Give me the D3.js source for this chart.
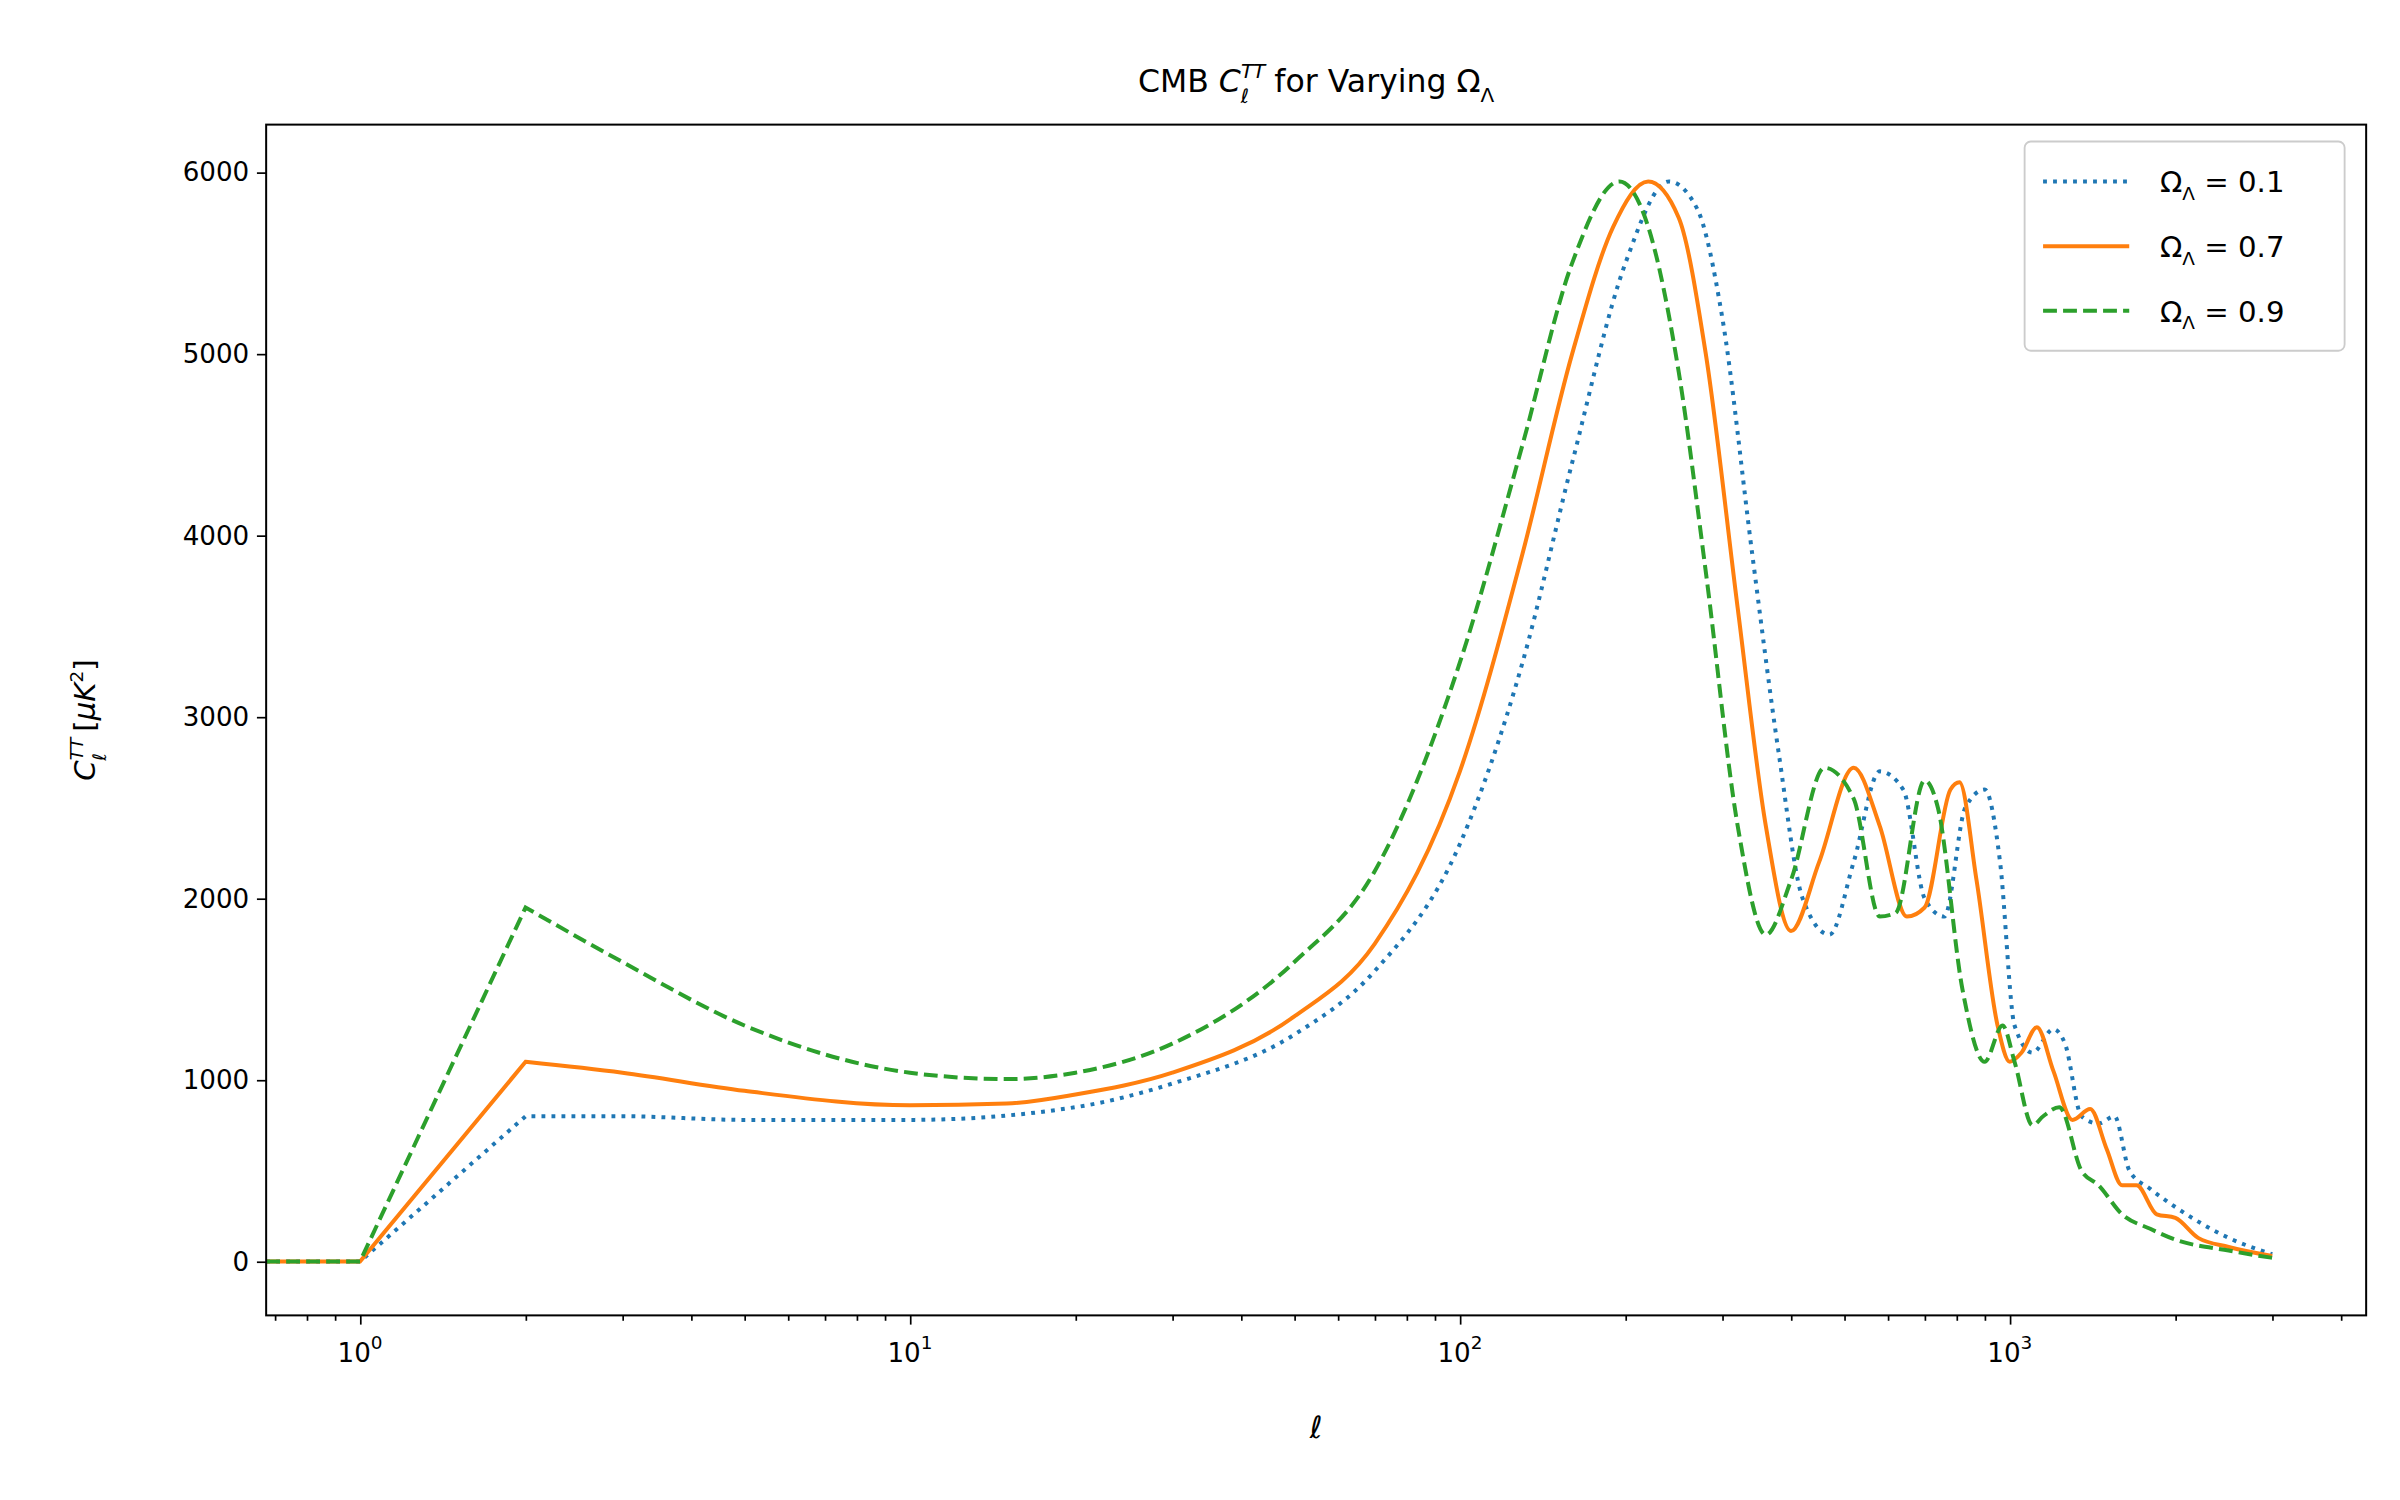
<!doctype html>
<html>
<head>
<meta charset="UTF-8">
<script src="https://cdn.jsdelivr.net/npm/d3@7"></script>
<style>
body { margin:0; background:#fff; }
text { font-family: "DejaVu Sans", sans-serif; fill:#000; }
</style>
</head>
<body>
<div id="chart"></div>
<script>
// values
var ell01 = [0.675,1,2,3,5,10,20,30,50,70,100,130,160,200,240,270,300,340,380,420,470,520,580,640,700,760,830,900,960,1020,1100,1200,1260,1350,1450,1550,1650,1800,2000,2500,3000];
var cl01  = [0,0,800,800,780,780,850,980,1250,1600,2300,3300,4400,5500,5950,5800,5200,3900,2800,2000,1800,2200,2700,2600,2000,1900,2500,2600,2200,1300,1150,1280,1200,800,760,800,500,400,300,130,40];
var ell07 = [0.675,1,2,3,5,10,15,20,30,50,70,100,130,160,190,220,250,280,320,360,400,450,520,580,650,700,780,810,870,950,1000,1050,1120,1200,1300,1400,1500,1600,1700,1850,2000,2200,2500,3000];
var cl07  = [0,0,1100,1040,940,860,870,920,1040,1350,1750,2700,3900,5000,5700,5950,5750,5000,3600,2400,1820,2200,2720,2400,1900,1950,2600,2640,2100,1300,1100,1150,1290,1050,780,840,620,420,420,260,240,130,80,30];
var ell09 = [0.675,1,2,3,5,10,15,20,30,50,70,100,130,160,195,220,250,280,320,360,400,460,520,580,620,700,740,820,900,970,1020,1100,1150,1230,1350,1450,1600,1800,2000,2500,3000];
var cl09  = [0,0,1950,1650,1300,1040,1005,1040,1200,1650,2150,3300,4500,5500,5950,5700,4900,3800,2400,1800,2100,2720,2550,1900,1920,2650,2500,1500,1100,1300,1100,750,800,850,500,420,260,180,120,60,20];
var seriesNames = ["0.1","0.7","0.9"];
var colors = ["#1f77b4","#ff7f0e","#2ca02c"];
var dashes = ["2.5,4","none","9,4"];
var yTicks = [0,1000,2000,3000,4000,5000,6000];

var W = 1560, H = 975;
var margin = {top:81, right:22, bottom:120, left:173};
var svg = d3.select("#chart").append("svg")
    .attr("width", 2400).attr("height", 1500)
    .attr("viewBox", "0 0 " + W + " " + H);

var x = d3.scaleLog().domain([0.675, 4446]).range([margin.left, W - margin.right]);
var y = d3.scaleLinear().domain([-297, 6263]).range([H - margin.bottom, margin.top]);

var g = svg.append("g");
svg.append("clipPath").attr("id","c").append("rect")
    .attr("x", margin.left).attr("y", margin.top)
    .attr("width", W - margin.right - margin.left).attr("height", H - margin.bottom - margin.top);

var data = [[ell01, cl01], [ell07, cl07], [ell09, cl09]];
var lineLin = d3.line().x(function(d){ return x(d[0]); }).y(function(d){ return y(d[1]); });
var lineSm = d3.line().x(function(d){ return x(d[0]); }).y(function(d){ return y(d[1]); }).curve(d3.curveMonotoneX);
data.forEach(function(s, i) {
    var pts = s[0].map(function(l, j){ return [l, s[1][j]]; });
    var head = pts.filter(function(p){ return p[0] <= 2; });
    var tail = pts.filter(function(p){ return p[0] >= 2; });
    var d = lineLin(head) + lineSm(tail).replace(/^M/, "L");
    g.append("path")
        .attr("d", d).attr("fill","none")
        .attr("stroke", colors[i]).attr("stroke-width", 2.6)
        .attr("stroke-dasharray", dashes[i])
        .attr("clip-path","url(#c)");
});

// axes
svg.append("g").attr("transform","translate(0," + (H - margin.bottom) + ")")
    .call(d3.axisBottom(x).tickValues([1,10,100,1000]).tickFormat("").tickSize(6));
var minor = [];
[0.1,1,10,100,1000].forEach(function(d){ for (var k=2;k<10;k++){ var v=d*k; if (v>0.675 && v<4446) minor.push(v);} });
svg.append("g").attr("transform","translate(0," + (H - margin.bottom) + ")")
    .call(d3.axisBottom(x).tickValues(minor).tickFormat("").tickSize(3.5));
[0,1,2,3].forEach(function(p){
    var t = svg.append("text").attr("x", x(Math.pow(10,p))).attr("y", H - margin.bottom + 30)
        .attr("text-anchor","middle").attr("font-size", 17);
    t.append("tspan").text("10");
    t.append("tspan").attr("font-size", 12).attr("dy", -8).text(p);
});
var gy = svg.append("g").attr("transform","translate(" + margin.left + ",0)")
    .call(d3.axisLeft(y).tickValues(yTicks).tickFormat(d3.format("d")).tickSize(6).tickPadding(5));
gy.selectAll("text").attr("font-size", 17).attr("font-family","DejaVu Sans");
svg.selectAll(".domain").remove();
svg.selectAll(".tick line").attr("stroke","#000").attr("stroke-width",1.1);
svg.append("rect").attr("x", margin.left).attr("y", margin.top)
    .attr("width", W - margin.right - margin.left).attr("height", H - margin.bottom - margin.top)
    .attr("fill","none").attr("stroke","#000").attr("stroke-width",1.3);

// labels
var title = svg.append("text").attr("x", (margin.left + W - margin.right)/2).attr("y", 60)
    .attr("text-anchor","middle").attr("font-size", 20.5);
title.append("tspan").text("CMB ");
title.append("tspan").attr("font-style","italic").text("C");
title.append("tspan").attr("font-style","italic").attr("font-size",13).attr("dy",-9).text("TT");
title.append("tspan").attr("font-style","italic").attr("font-size",13).attr("dx",-16).attr("dy",16).text("ℓ");
title.append("tspan").attr("dx",10).attr("dy",-7).text(" for Varying Ω");
title.append("tspan").attr("font-size",13).attr("dy",6).text("Λ");

svg.append("text").attr("x", (margin.left + W - margin.right)/2).attr("y", H - margin.bottom + 80)
    .attr("text-anchor","middle").attr("font-size", 20).attr("font-style","italic").text("ℓ");

var yl = svg.append("text").attr("transform","translate(62," + ((margin.top + H - margin.bottom)/2) + ") rotate(-90)")
    .attr("text-anchor","middle").attr("font-size", 19);
yl.append("tspan").attr("font-style","italic").text("C");
yl.append("tspan").attr("font-style","italic").attr("font-size",12).attr("dy",-8).text("TT");
yl.append("tspan").attr("font-style","italic").attr("font-size",12).attr("dx",-15).attr("dy",15).text("ℓ");
yl.append("tspan").attr("dx",14).attr("dy",-7).text("[");
yl.append("tspan").attr("font-style","italic").text("μK");
yl.append("tspan").attr("font-size",12).attr("dy",-8).text("2");
yl.append("tspan").attr("dy",8).text("]");

// legend
var lg = svg.append("g").attr("transform","translate(1316,92)");
lg.append("rect").attr("width",208).attr("height",136).attr("rx",4)
    .attr("fill","#fff").attr("fill-opacity",0.8).attr("stroke","#ccc").attr("stroke-width",1.2);
seriesNames.forEach(function(n, i){
    var yy = 26 + i*42;
    lg.append("line").attr("x1",12).attr("x2",68).attr("y1",yy).attr("y2",yy)
        .attr("stroke",colors[i]).attr("stroke-width",2.6).attr("stroke-dasharray",dashes[i]);
    var t = lg.append("text").attr("x",88).attr("y",yy+7).attr("font-size",19);
    t.append("tspan").text("Ω");
    t.append("tspan").attr("font-size",12).attr("dy",5).text("Λ");
    t.append("tspan").attr("dy",-5).text(" = " + n);
});
</script>
</body>
</html>
